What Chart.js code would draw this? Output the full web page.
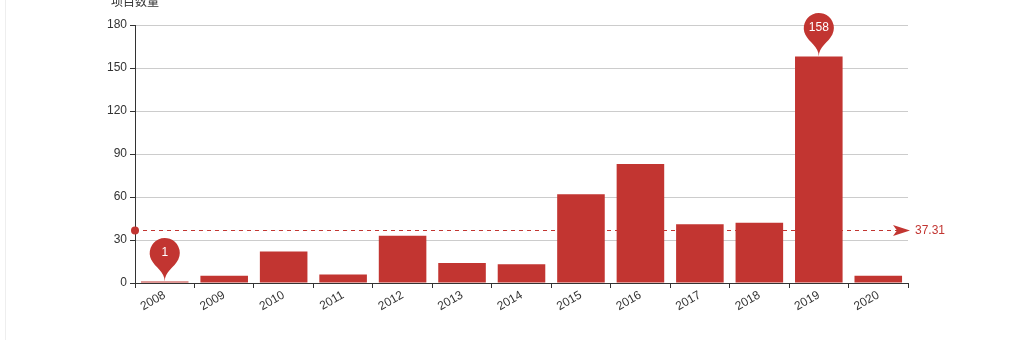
<!DOCTYPE html>
<html>
<head>
<meta charset="utf-8">
<script src="https://cdn.jsdelivr.net/npm/chart.js@4/dist/chart.umd.min.js"></script>
<style>
html,body{margin:0;padding:0;background:#fff;}
#wrap{width:1026px;height:340px;position:relative;}
</style>
</head>
<body>
<div id="wrap"><canvas id="c" width="1026" height="340"></canvas></div>
<script>
const categories = ['2008','2009','2010','2011','2012','2013','2014','2015','2016','2017','2018','2019','2020'];
const projectCounts = [1, 5, 22, 6, 33, 14, 13, 62, 83, 41, 42, 158, 5];
const yTicks = [0, 30, 60, 90, 120, 150, 180];
const yAxisName = '项目数量';

const RED = '#c23531';
const FONT = '"Liberation Sans", Arial, "Noto Sans CJK SC", sans-serif';

function pinPath(ctx, x, tipY, size) {
  const w = size / 5 * 3;
  const h = Math.max(w, size);
  const r = w / 2;
  const dy = r * r / (h - r);
  const cy = tipY - h + r + dy;
  const angle = Math.asin(dy / r);
  const dx = Math.cos(angle) * r;
  const tanX = Math.sin(angle);
  const tanY = Math.cos(angle);
  const cpLen = r * 0.6;
  const cpLen2 = r * 0.7;
  ctx.beginPath();
  ctx.moveTo(x - dx, cy + dy);
  ctx.arc(x, cy, r, Math.PI - angle, Math.PI * 2 + angle);
  ctx.bezierCurveTo(x + dx - tanX * cpLen, cy + dy + tanY * cpLen, x, tipY - cpLen2, x, tipY);
  ctx.bezierCurveTo(x, tipY - cpLen2, x - dx + tanX * cpLen, cy + dy + tanY * cpLen, x - dx, cy + dy);
  ctx.closePath();
  return cy;
}

const decorPlugin = {
  id: 'decor',
  beforeDraw(chart) {
    const ctx = chart.ctx;
    ctx.save();
    ctx.fillStyle = '#eeeeee';
    ctx.fillRect(5, 0, 1, chart.height);
    ctx.restore();
  },
  afterDatasetsDraw(chart) {
    const ctx = chart.ctx;
    const area = chart.chartArea;
    const yScale = chart.scales.y;
    const data = chart.data.datasets[0].data;
    const meta = chart.getDatasetMeta(0);

    // axis name
    ctx.save();
    ctx.font = '12px ' + FONT;
    ctx.fillStyle = '#333';
    ctx.textAlign = 'center';
    ctx.textBaseline = 'alphabetic';
    ctx.fillText(yAxisName, area.left, 6);
    ctx.restore();

    // average mark line
    const avg = data.reduce((a, b) => a + b, 0) / data.length;
    const yy = Math.round(yScale.getPixelForValue(avg)) + 0.5;
    ctx.save();
    ctx.strokeStyle = RED;
    ctx.lineWidth = 1;
    ctx.setLineDash([4, 4]);
    ctx.beginPath();
    ctx.moveTo(area.left, yy);
    ctx.lineTo(area.right - 4, yy);
    ctx.stroke();
    ctx.setLineDash([]);
    ctx.fillStyle = RED;
    ctx.beginPath();
    ctx.arc(area.left, yy, 4, 0, Math.PI * 2);
    ctx.fill();
    // arrow
    const tipX = area.right + 2;
    ctx.beginPath();
    ctx.moveTo(tipX, yy);
    ctx.lineTo(tipX - 17, yy - 5.5);
    ctx.lineTo(tipX - 13, yy);
    ctx.lineTo(tipX - 17, yy + 5.5);
    ctx.closePath();
    ctx.fill();
    ctx.font = '12px ' + FONT;
    ctx.textAlign = 'left';
    ctx.textBaseline = 'middle';
    ctx.fillText(avg.toFixed(2), tipX + 5, yy);
    ctx.restore();

    // max / min pins
    let maxI = 0, minI = 0;
    data.forEach((v, i) => { if (v > data[maxI]) maxI = i; if (v < data[minI]) minI = i; });
    [maxI, minI].forEach(i => {
      const bar = meta.data[i];
      ctx.save();
      ctx.fillStyle = RED;
      const cy = pinPath(ctx, bar.x, bar.y, 50);
      ctx.fill();
      ctx.fillStyle = '#fff';
      ctx.font = '12px ' + FONT;
      ctx.textAlign = 'center';
      ctx.textBaseline = 'middle';
      ctx.fillText(String(data[i]), bar.x, cy);
      ctx.restore();
    });
  }
};

new Chart(document.getElementById('c'), {
  type: 'bar',
  data: {
    labels: categories,
    datasets: [{
      data: projectCounts,
      backgroundColor: RED,
      borderWidth: 0,
      categoryPercentage: 1.0,
      barPercentage: 0.8
    }]
  },
  options: {
    responsive: false,
    animation: false,
    events: [],
    layout: { padding: { left: 0, right: 118, top: 25, bottom: 0 } },
    plugins: { legend: { display: false }, tooltip: { enabled: false } },
    scales: {
      x: {
        offset: true,
        grid: { display: true, offset: true, drawOnChartArea: false, drawTicks: true, tickLength: 5, tickColor: '#333' },
        border: { display: true, color: '#333' },
        ticks: {
          color: '#333',
          font: { size: 12, family: FONT },
          maxRotation: 30, minRotation: 30,
          autoSkip: false,
          padding: 0
        },
        afterFit(scale) { scale.height = 57; }
      },
      y: {
        min: 0, max: 180,
        afterBuildTicks(scale) { scale.ticks = yTicks.map(v => ({ value: v })); },
        grid: { color: '#cccccc', drawTicks: true, tickLength: 5, tickColor: '#333' },
        border: { display: true, color: '#333' },
        ticks: {
          color: '#333',
          font: { size: 12, family: FONT },
          padding: 3
        },
        afterFit(scale) { scale.width = 135; }
      }
    }
  },
  plugins: [decorPlugin]
});
</script>
</body>
</html>
